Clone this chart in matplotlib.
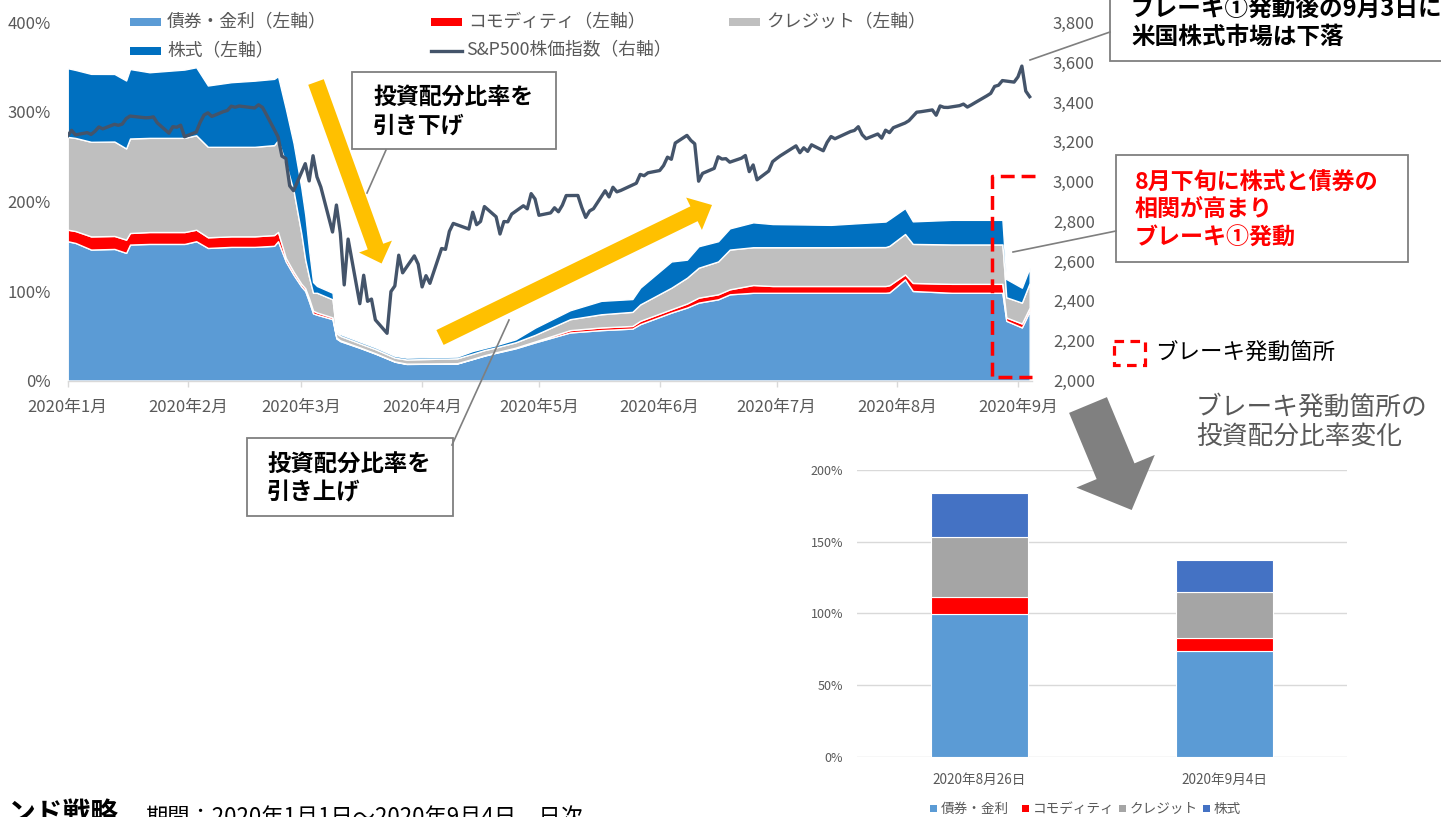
import numpy as np
import pandas as pd
import matplotlib
matplotlib.use('Agg')
import matplotlib.pyplot as plt
import matplotlib.dates as mdates
from matplotlib.patches import Rectangle, FancyArrow
from matplotlib.lines import Line2D

plt.rcParams['font.family'] = ['Noto Sans CJK JP', 'DejaVu Sans']

# ---------------- data ----------------
alloc_dates = ['2020-01-01', '2020-01-03', '2020-01-07', '2020-01-13', '2020-01-16', '2020-01-17',
               '2020-01-22', '2020-01-31', '2020-02-03', '2020-02-06', '2020-02-12', '2020-02-18',
               '2020-02-23', '2020-02-24', '2020-02-26', '2020-02-28', '2020-03-01', '2020-03-02',
               '2020-03-03', '2020-03-04', '2020-03-05', '2020-03-09', '2020-03-10', '2020-03-11',
               '2020-03-16', '2020-03-20', '2020-03-25', '2020-03-28', '2020-04-10', '2020-04-14',
               '2020-04-17', '2020-04-20', '2020-04-25', '2020-04-30', '2020-05-09', '2020-05-17',
               '2020-05-25', '2020-05-27', '2020-06-04', '2020-06-08', '2020-06-11', '2020-06-16',
               '2020-06-19', '2020-06-25', '2020-06-30', '2020-07-15', '2020-07-29', '2020-07-30',
               '2020-08-03', '2020-08-05', '2020-08-15', '2020-08-28', '2020-08-29', '2020-09-02',
               '2020-09-04']
bond = [155.6, 153.7, 146.3, 147.0, 142.6, 151.9, 152.6, 152.6, 155.6, 148.1, 149.3, 149.3,
        150.5, 155.6, 133.0, 118.0, 105.0, 100.0, 88.0, 75.0, 73.5, 68.5, 47.0, 44.0,
        36.5, 30.0, 21.0, 18.5, 19.0, 24.0, 27.8, 31.0, 36.0, 42.6, 53.7, 56.3,
        58.0, 63.0, 75.9, 81.5, 87.0, 90.7, 96.3, 98.0, 98.0, 98.0, 98.0, 98.5,
        113.0, 100.0, 98.0, 98.0, 66.7, 59.3, 77.8]
commodity = [12.9, 13.3, 14.7, 14.5, 14.8, 12.9, 13.3, 13.3, 12.9, 11.9, 11.8, 11.8,
             12.0, 10.4, 4.0, 3.5, 3.0, 3.0, 3.5, 3.0, 2.5, 2.0, 1.0, 0.8,
             0.5, 0.4, 0.3, 0.3, 0.3, 0.3, 0.4, 0.5, 0.7, 1.0, 2.6, 3.0,
             3.0, 3.7, 3.7, 4.5, 5.6, 5.6, 5.6, 8.7, 7.6, 7.6, 7.6, 8.0,
             5.5, 9.0, 10.0, 10.0, 3.7, 4.4, 3.7]
credit = [103.7, 104.0, 105.7, 105.5, 101.9, 105.6, 105.2, 105.2, 105.5, 101.1, 100.0, 100.0,
          100.5, 102.5, 106.0, 90.5, 56.0, 32.0, 23.5, 20.0, 22.0, 20.2, 5.0, 5.0,
          4.5, 4.6, 4.2, 4.7, 5.5, 5.7, 5.8, 5.5, 6.0, 7.4, 12.2, 14.7,
          15.7, 18.3, 24.1, 28.8, 33.4, 36.7, 44.4, 42.2, 43.3, 43.3, 43.5, 44.0,
          45.2, 43.6, 44.0, 44.0, 22.6, 23.3, 27.5]
equity = [76.7, 76.0, 75.9, 75.5, 75.9, 77.6, 73.3, 76.3, 76.0, 68.5, 72.2, 73.9,
          74.0, 71.5, 60.7, 53.0, 51.0, 50.0, 30.0, 12.0, 7.6, 7.3, 2.0, 2.0,
          2.0, 2.0, 2.0, 2.0, 1.9, 3.0, 2.3, 2.5, 3.3, 8.0, 10.0, 15.0,
          14.3, 18.7, 29.3, 20.2, 24.0, 22.6, 23.7, 27.8, 25.9, 25.0, 28.5, 30.0,
          28.9, 25.2, 27.5, 27.5, 20.4, 16.7, 17.0]

sp_dates = ['2020-01-01', '2020-01-02', '2020-01-03', '2020-01-06', '2020-01-07', '2020-01-08',
            '2020-01-09', '2020-01-10', '2020-01-13', '2020-01-14', '2020-01-15', '2020-01-16',
            '2020-01-17', '2020-01-21', '2020-01-22', '2020-01-23', '2020-01-24', '2020-01-27',
            '2020-01-28', '2020-01-29', '2020-01-30', '2020-01-31',
            '2020-02-03', '2020-02-04', '2020-02-05', '2020-02-06', '2020-02-07', '2020-02-10',
            '2020-02-11', '2020-02-12', '2020-02-13', '2020-02-14', '2020-02-18', '2020-02-19',
            '2020-02-20', '2020-02-21', '2020-02-24', '2020-02-25', '2020-02-26', '2020-02-27',
            '2020-02-28',
            '2020-03-02', '2020-03-03', '2020-03-04', '2020-03-05', '2020-03-06', '2020-03-09',
            '2020-03-10', '2020-03-11', '2020-03-12', '2020-03-13', '2020-03-16', '2020-03-17',
            '2020-03-18', '2020-03-19', '2020-03-20', '2020-03-23', '2020-03-24', '2020-03-25',
            '2020-03-26', '2020-03-27', '2020-03-30', '2020-03-31',
            '2020-04-01', '2020-04-02', '2020-04-03', '2020-04-06', '2020-04-07', '2020-04-08',
            '2020-04-09', '2020-04-13', '2020-04-14', '2020-04-15', '2020-04-16', '2020-04-17',
            '2020-04-20', '2020-04-21', '2020-04-22', '2020-04-23', '2020-04-24', '2020-04-27',
            '2020-04-28', '2020-04-29', '2020-04-30',
            '2020-05-01', '2020-05-04', '2020-05-05', '2020-05-06', '2020-05-07', '2020-05-08',
            '2020-05-11', '2020-05-12', '2020-05-13', '2020-05-14', '2020-05-15', '2020-05-18',
            '2020-05-19', '2020-05-20', '2020-05-21', '2020-05-22', '2020-05-26', '2020-05-27',
            '2020-05-28', '2020-05-29',
            '2020-06-01', '2020-06-02', '2020-06-03', '2020-06-04', '2020-06-05', '2020-06-08',
            '2020-06-09', '2020-06-10', '2020-06-11', '2020-06-12', '2020-06-15', '2020-06-16',
            '2020-06-17', '2020-06-18', '2020-06-19', '2020-06-22', '2020-06-23', '2020-06-24',
            '2020-06-25', '2020-06-26', '2020-06-29', '2020-06-30',
            '2020-07-01', '2020-07-02', '2020-07-06', '2020-07-07', '2020-07-08', '2020-07-09',
            '2020-07-10', '2020-07-13', '2020-07-14', '2020-07-15', '2020-07-16', '2020-07-17',
            '2020-07-20', '2020-07-21', '2020-07-22', '2020-07-23', '2020-07-24', '2020-07-27',
            '2020-07-28', '2020-07-29', '2020-07-30', '2020-07-31',
            '2020-08-03', '2020-08-04', '2020-08-05', '2020-08-06', '2020-08-07', '2020-08-10',
            '2020-08-11', '2020-08-12', '2020-08-13', '2020-08-14', '2020-08-17', '2020-08-18',
            '2020-08-19', '2020-08-20', '2020-08-21', '2020-08-24', '2020-08-25', '2020-08-26',
            '2020-08-27', '2020-08-28', '2020-08-31',
            '2020-09-01', '2020-09-02', '2020-09-03', '2020-09-04']
sp_values = [3230.78, 3257.85, 3234.85, 3246.28, 3237.18, 3253.05,
             3274.70, 3265.35, 3288.13, 3283.15, 3289.29, 3316.81,
             3329.62, 3320.79, 3321.75, 3325.54, 3295.47, 3243.63,
             3276.24, 3273.40, 3283.66, 3225.52,
             3248.92, 3297.59, 3334.69, 3345.78, 3327.71, 3352.09,
             3357.75, 3379.45, 3373.94, 3380.16, 3370.29, 3386.15,
             3373.23, 3337.75, 3225.89, 3128.21, 3116.39, 2978.76,
             2954.22,
             3090.23, 3003.37, 3130.12, 3023.94, 2972.37, 2746.56,
             2882.23, 2741.38, 2480.64, 2711.02, 2386.13, 2529.19,
             2398.10, 2409.39, 2304.92, 2237.40, 2447.33, 2475.56,
             2630.07, 2541.47, 2626.65, 2584.59,
             2470.50, 2526.90, 2488.65, 2663.68, 2659.41, 2749.98,
             2789.82, 2761.63, 2846.06, 2783.36, 2799.55, 2874.56,
             2823.16, 2736.56, 2799.31, 2797.80, 2836.74, 2878.48,
             2863.39, 2939.51, 2912.43,
             2830.71, 2842.74, 2868.44, 2848.42, 2881.19, 2929.80,
             2930.32, 2870.12, 2820.00, 2852.50, 2863.70, 2953.91,
             2922.94, 2971.61, 2948.51, 2955.45, 2991.77, 3036.13,
             3029.73, 3044.31,
             3055.73, 3080.82, 3122.87, 3112.35, 3193.93, 3232.39,
             3207.18, 3190.14, 3002.10, 3041.31, 3066.59, 3124.74,
             3113.49, 3115.34, 3097.74, 3117.86, 3131.29, 3050.33,
             3083.76, 3009.05, 3053.24, 3100.29,
             3115.86, 3130.01, 3179.72, 3145.32, 3169.94, 3152.05,
             3185.04, 3155.22, 3197.52, 3226.56, 3215.57, 3224.73,
             3251.84, 3257.30, 3276.02, 3235.66, 3215.63, 3239.41,
             3218.44, 3258.44, 3246.22, 3271.12,
             3294.61, 3306.51, 3327.77, 3349.16, 3351.28, 3360.47,
             3333.69, 3380.35, 3373.43, 3372.85, 3381.99, 3389.78,
             3374.85, 3385.51, 3397.16, 3431.28, 3443.62, 3478.73,
             3484.55, 3508.01, 3500.31,
             3526.65, 3580.84, 3455.06, 3426.96]

month_ticks = ['2020-01-01', '2020-02-01', '2020-03-01', '2020-04-01', '2020-05-01',
               '2020-06-01', '2020-07-01', '2020-08-01', '2020-09-01']
month_labels = ['2020年1月', '2020年2月', '2020年3月', '2020年4月', '2020年5月',
                '2020年6月', '2020年7月', '2020年8月', '2020年9月']
left_ticks = [0, 100, 200, 300, 400]
right_ticks = [2000, 2200, 2400, 2600, 2800, 3000, 3200, 3400, 3600, 3800]

series_names = ['債券・金利', 'コモディティ', 'クレジット', '株式']
bar_categories = ['2020年8月26日', '2020年9月4日']
bar_bond = [99.5, 74.0]
bar_commodity = [12.0, 9.0]
bar_credit = [41.5, 32.0]
bar_equity = [31.0, 22.0]
bar_ticks = [0, 50, 100, 150, 200]

# ---------------- styling ----------------
W, H = 1441, 817
C_BOND, C_COMM, C_CRED, C_EQ = '#5B9BD5', '#FF0000', '#BFBFBF', '#0070C0'
C_SP = '#44546A'
C_TXT = '#595959'
C_GRID = '#D9D9D9'


def px_axes(x0, y0, x1, y1):
    return [x0 / W, 1 - y1 / H, (x1 - x0) / W, (y1 - y0) / H]


fig = plt.figure(figsize=(W / 100, H / 100), dpi=100)
fig.patch.set_facecolor('white')

# ---------------- main chart ----------------
ax = fig.add_axes(px_axes(67.7, 22.5, 1032, 380.5))
x_alloc = mdates.date2num(pd.to_datetime(alloc_dates))
ax.stackplot(x_alloc, bond, commodity, credit, equity,
             colors=[C_BOND, C_COMM, C_CRED, C_EQ], edgecolor='white', linewidth=1.0)
x0 = mdates.date2num(pd.Timestamp('2020-01-01'))
ax.set_xlim(x0, x0 + 247.6)
ax.set_ylim(0, 400)
ax.set_yticks(left_ticks)
ax.set_yticklabels([f'{v}%' for v in left_ticks])
ax.set_xticks(mdates.date2num(pd.to_datetime(month_ticks)))
ax.set_xticklabels(month_labels)
ax.tick_params(axis='y', length=0, pad=12, labelsize=12, labelcolor=C_TXT)
ax.tick_params(axis='x', length=4, width=1, color=C_GRID, direction='out', pad=9,
               labelsize=12, labelcolor=C_TXT)
for s in ['top', 'left', 'right']:
    ax.spines[s].set_visible(False)
ax.spines['bottom'].set_color(C_GRID)
ax.spines['bottom'].set_linewidth(1.0)
ax.patch.set_alpha(0)

ax2 = ax.twinx()
ax2.plot(mdates.date2num(pd.to_datetime(sp_dates)), sp_values, color=C_SP, lw=2.4,
         solid_joinstyle='round', zorder=3)
ax2.set_ylim(2000, 3800)
ax2.set_yticks(right_ticks)
ax2.set_yticklabels([f'{v:,}' for v in right_ticks])
ax2.tick_params(axis='y', length=0, pad=15, labelsize=12, labelcolor=C_TXT)
for s in ['top', 'left', 'right', 'bottom']:
    ax2.spines[s].set_visible(False)

# ---------------- bar chart ----------------
bx = fig.add_axes(px_axes(857, 470, 1347, 756.7))
xb = np.arange(len(bar_categories))
bw = 0.393
b1 = np.array(bar_bond)
b2 = b1 + np.array(bar_commodity)
b3 = b2 + np.array(bar_credit)
bx.bar(xb, bar_bond, bw, color='#5B9BD5', edgecolor='white', linewidth=0.8, zorder=2)
bx.bar(xb, bar_commodity, bw, bottom=b1, color='#FF0000', edgecolor='white', linewidth=0.8, zorder=2)
bx.bar(xb, bar_credit, bw, bottom=b2, color='#A5A5A5', edgecolor='white', linewidth=0.8, zorder=2)
bx.bar(xb, bar_equity, bw, bottom=b3, color='#4472C4', edgecolor='white', linewidth=0.8, zorder=2)
bx.set_xlim(-0.5, 1.5)
bx.set_ylim(0, 200)
bx.set_yticks(bar_ticks)
bx.set_yticklabels([f'{v}%' for v in bar_ticks])
bx.set_xticks(xb)
bx.set_xticklabels(bar_categories)
bx.grid(axis='y', color=C_GRID, lw=1.0, zorder=0)
bx.set_axisbelow(True)
bx.tick_params(axis='y', length=0, pad=10, labelsize=9, labelcolor=C_TXT)
bx.tick_params(axis='x', length=0, pad=12, labelsize=9.8, labelcolor=C_TXT)
for s in ['top', 'left', 'right', 'bottom']:
    bx.spines[s].set_visible(False)
bx.patch.set_alpha(0)

# ---------------- overlay (annotations) ----------------
ov = fig.add_axes([0, 0, 1, 1], zorder=10)
ov.set_xlim(0, W)
ov.set_ylim(H, 0)
ov.axis('off')
ov.patch.set_alpha(0)

# main legend
leg_items = [(130, 21.5, C_BOND, series_names[0] + '（左軸）'),
             (431, 21.5, C_COMM, series_names[1] + '（左軸）'),
             (729, 21.5, C_CRED, series_names[2] + '（左軸）'),
             (130, 50.5, C_EQ, series_names[3] + '（左軸）')]
for lx, ly, c, t in leg_items:
    ov.add_patch(Rectangle((lx, ly - 4), 31, 8, color=c, lw=0))
    ov.text(lx + 37, ly, t, fontsize=12.8, color=C_TXT, va='center', ha='left')
ov.add_line(Line2D([431, 462], [50.5, 50.5], color=C_SP, lw=2.4))
ov.text(466, 50.5, 'S&P500株価指数（右軸）', fontsize=12.8, color=C_TXT, va='center', ha='left')

# yellow arrows
ov.add_patch(FancyArrow(316, 82, 381.6 - 316, 263.5 - 82, width=16.5, head_width=35,
                        head_length=18, length_includes_head=True, color='#FFC000', lw=0))
ov.add_patch(FancyArrow(440, 337.5, 712 - 440, 205 - 337.5, width=16.5, head_width=36,
                        head_length=20, length_includes_head=True, color='#FFC000', lw=0))

# callout boxes
def box(x0_, y0_, x1_, y1_):
    ov.add_patch(Rectangle((x0_, y0_), x1_ - x0_, y1_ - y0_, facecolor='white',
                           edgecolor='#7F7F7F', lw=1.3))

box(352, 72, 556, 149)
ov.text(373, 97.5, '投資配分比率を', fontsize=16.5, fontweight='bold', color='black', va='center')
ov.text(373, 126, '引き下げ', fontsize=16.5, fontweight='bold', color='black', va='center')
ov.add_line(Line2D([386, 367], [150, 193], color='#7F7F7F', lw=1.2))

box(247, 438, 453, 516)
ov.text(267, 465, '投資配分比率を', fontsize=16.8, fontweight='bold', color='black', va='center')
ov.text(267, 492, '引き上げ', fontsize=16.8, fontweight='bold', color='black', va='center')
ov.add_line(Line2D([452, 509], [445, 320], color='#7F7F7F', lw=1.2))

box(1110, -10, 1460, 61)
ov.text(1131, 8.5, 'ブレーキ①発動後の9月3日に', fontsize=17, fontweight='bold', color='black', va='center')
ov.text(1131, 37, '米国株式市場は下落', fontsize=17, fontweight='bold', color='black', va='center')
ov.add_line(Line2D([1110, 1030], [32, 60], color='#7F7F7F', lw=1.2))

box(1116, 155, 1408, 262)
for i, t in enumerate(['8月下旬に株式と債券の', '相関が高まり', 'ブレーキ①発動']):
    ov.text(1135, 183 + 27.8 * i, t, fontsize=16.6, fontweight='bold', color='#FF0000', va='center')
ov.add_line(Line2D([1116, 1013], [231, 252], color='#7F7F7F', lw=1.2))

# red dashed bracket
ov.add_line(Line2D([1035, 992, 992, 1032], [176, 176, 377, 377], color='#FF0000', lw=2.5,
                   linestyle=(0, (4, 2))))
ov.add_patch(Rectangle((1114, 341), 31, 24, fill=False, edgecolor='#FF0000', lw=2.3,
                       linestyle=(0, (3, 2))))
ov.text(1155, 352, 'ブレーキ発動箇所', fontsize=16.2, color='black', va='center')

# gray title and arrow
ov.text(1196, 408, 'ブレーキ発動箇所の', fontsize=18.5, color=C_TXT, va='center')
ov.text(1196, 438, '投資配分比率変化', fontsize=18.5, color=C_TXT, va='center')
ov.add_patch(FancyArrow(1088, 405, 1131.7 - 1088, 510 - 405, width=41, head_width=85,
                        head_length=42, length_includes_head=True, color='#808080', lw=0))

# bar legend
bar_leg = [(930, '#5B9BD5', series_names[0]), (1022, '#FF0000', series_names[1]),
           (1119, '#A5A5A5', series_names[2]), (1203, '#4472C4', series_names[3])]
for lx, c, t in bar_leg:
    ov.add_patch(Rectangle((lx, 805), 7, 7, color=c, lw=0))
    ov.text(lx + 11, 808.5, t, fontsize=9.8, color=C_TXT, va='center')

# bottom cut-off text
ov.text(8, 800, 'ンド戦略', fontsize=20, fontweight='bold', color='black', va='top')
ov.text(145, 806, '期間：2020年1月1日～2020年9月4日、日次', fontsize=16, color='black', va='top')

fig.savefig('out.png', dpi=100, facecolor='white')
